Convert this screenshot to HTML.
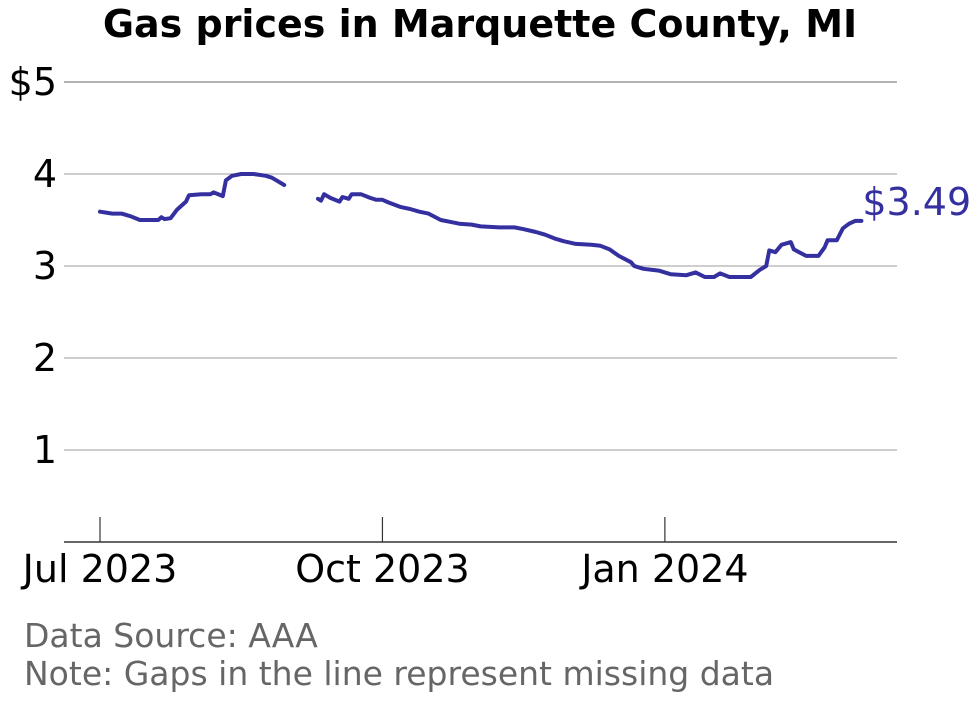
<!DOCTYPE html>
<html><head><meta charset="utf-8"><style>
body{margin:0;background:#fff}
svg{font-family:"DejaVu Sans","Liberation Sans",sans-serif}
</style></head><body>
<svg id="chart" width="980" height="699" viewBox="0 0 980 699">
<text x="480" y="37" text-anchor="middle" font-size="38" font-weight="bold" fill="#000">Gas prices in Marquette County, MI</text>
<g id="grid"></g><g id="xaxis"></g>
<path id="line" fill="none" stroke="#3530a0" stroke-width="4" stroke-linejoin="round" stroke-linecap="round"/>
<text id="lastlabel" font-size="38" fill="#3530a0"></text>
<text x="24" y="647" font-size="33" fill="#666">Data Source: AAA</text>
<text x="24" y="685" font-size="33" fill="#666">Note: Gaps in the line represent missing data</text>
</svg>
<script>
const days=[0,2,4,7,10,13,16,19,20,21,23,25,28,29,33,36,37,40,41,43,46,50,54,56,60,null,71,72,73,75,78,79,81,82,85,88,90,92,94,98,101,104,107,111,114,117,121,124,130,135,138,142,145,148,151,155,160,163,166,169,173,174,177,182,186,191,194,197,200,202,205,208,212,215,217,218,220,222,225,226,230,234,236,237,240,242,244,246,248];
const prices=[3.59,3.58,3.57,3.57,3.54,3.50,3.50,3.50,3.53,3.51,3.52,3.61,3.70,3.77,3.78,3.78,3.80,3.76,3.93,3.98,4.00,4.00,3.98,3.96,3.88,null,3.73,3.71,3.78,3.74,3.70,3.75,3.73,3.78,3.78,3.74,3.72,3.72,3.69,3.64,3.62,3.59,3.57,3.50,3.48,3.46,3.45,3.43,3.42,3.42,3.40,3.37,3.34,3.30,3.27,3.24,3.23,3.22,3.18,3.11,3.04,3.00,2.97,2.95,2.91,2.90,2.93,2.88,2.88,2.92,2.88,2.88,2.88,2.96,3.00,3.17,3.15,3.23,3.26,3.18,3.11,3.11,3.20,3.28,3.28,3.41,3.46,3.49,3.49];
const yTicks=[1,2,3,4,5];
const yTickLabels=["1","2","3","4","$5"];
const xTickDays=[0,92,184];
const xTickLabels=["Jul 2023","Oct 2023","Jan 2024"];
const X=d=>100+d*3.07, Y=v=>542-v*92;
const NS="http://www.w3.org/2000/svg";
const grid=document.getElementById('grid'), xa=document.getElementById('xaxis');
function mk(tag,attrs,parent,txt){const e=document.createElementNS(NS,tag);for(const k in attrs)e.setAttribute(k,attrs[k]);if(txt!==undefined)e.textContent=txt;parent.appendChild(e);return e;}
yTicks.forEach((t,i)=>{
  const l=mk('line',{x1:64,x2:897,y1:Y(t),y2:Y(t),stroke:t===5?'#888':'#b0b0b0','stroke-width':1.3},grid);
  
  
  const tx=mk('text',{x:57,y:Y(t)+13,'text-anchor':'end','font-size':38,fill:'#000'},grid,yTickLabels[i]);
  
  
});
const ax=mk('line',{x1:64,x2:897,y1:542,y2:542,stroke:'#333','stroke-width':1.5},xa);


xTickDays.forEach((d,i)=>{
  const t=mk('line',{x1:X(d),x2:X(d),y1:517,y2:542,stroke:'#333','stroke-width':1.2},xa);
  
  
  const tx=mk('text',{x:X(d),y:582,'text-anchor':'middle','font-size':38,fill:'#000'},xa,xTickLabels[i]);
  
  
});
let p='',pen=false;
days.forEach((d,i)=>{
  if(d===null||prices[i]===null){pen=false;return;}
  p+=(pen?'L':'M')+X(d).toFixed(1)+','+Y(prices[i]).toFixed(1);pen=true;
});
document.getElementById('line').setAttribute('d',p);
const last=prices[prices.length-1], lx=X(days[days.length-1]);
const lab=document.getElementById('lastlabel');
lab.setAttribute('x',lx+1);lab.setAttribute('y',Y(last)-6);
lab.textContent='$'+last.toFixed(2);
</script>
</body></html>
